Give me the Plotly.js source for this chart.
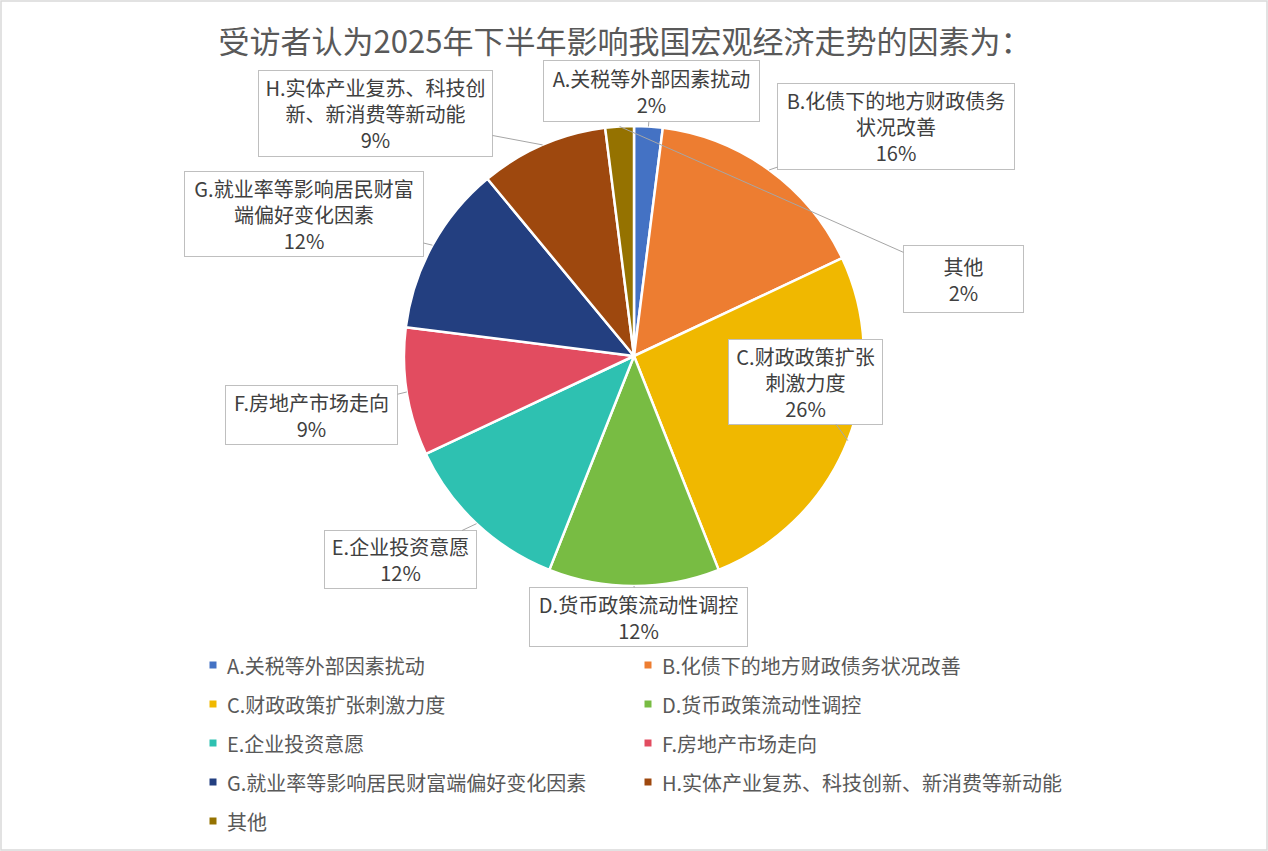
<!DOCTYPE html>
<html>
<head>
<meta charset="utf-8">
<script src="https://cdn.plot.ly/plotly-3.0.1.min.js"></script>
<style>
  body { margin: 0; background: #fff; }
  #chart { width: 1268px; height: 851px; }
</style>
</head>
<body>
<div id="chart"></div>
<script>
// 数据
const categories = [
  'A.关税等外部因素扰动',
  'B.化债下的地方财政债务状况改善',
  'C.财政政策扩张刺激力度',
  'D.货币政策流动性调控',
  'E.企业投资意愿',
  'F.房地产市场走向',
  'G.就业率等影响居民财富端偏好变化因素',
  'H.实体产业复苏、科技创新、新消费等新动能',
  '其他'
];
const shares = [2, 16, 26, 12, 12, 9, 12, 9, 2];
const colors = ['#4472C4', '#ED7D31', '#F0B800', '#78BC43', '#2EC1B1', '#E24C60', '#233F80', '#9E480E', '#957200'];

const titleText = '受访者认为2025年下半年影响我国宏观经济走势的因素为：';

// 画布 / 饼图几何（像素）
const W = 1268, H = 851;
const pie = { cx: 634, cy: 356, r: 230 };

// 标注框：中心、尺寸、换行位置
const boxes = [
  { cx: 651.5, cy: 91,    w: 217, h: 62, wrap: 0 },
  { cx: 896,   cy: 126.5, w: 238, h: 87, wrap: 12 },
  { cx: 805.5, cy: 382,   w: 155, h: 86, wrap: 8 },
  { cx: 638.5, cy: 617,   w: 219, h: 60, wrap: 0 },
  { cx: 400.5, cy: 559.5, w: 153, h: 59, wrap: 0 },
  { cx: 311.5, cy: 415,   w: 173, h: 60, wrap: 0 },
  { cx: 304,   cy: 214,   w: 240, h: 86, wrap: 12 },
  { cx: 375.5, cy: 113.5, w: 235, h: 87, wrap: 12 },
  { cx: 963.5, cy: 279,   w: 121, h: 68, wrap: 0 }
];

const labelFont = { family: 'Noto Sans CJK SC, sans-serif', size: 20, color: '#404040' };
const legendFont = { family: 'Noto Sans CJK SC, sans-serif', size: 20, color: '#595959' };

const total = shares.reduce((a, b) => a + b, 0);

// callouts, tip at slice mid-angle on the rim
const annotations = [];
let cum = 0;
shares.forEach((v, i) => {
  const theta = 2 * Math.PI * (cum + v / 2) / total;
  cum += v;
  const px = pie.cx + pie.r * Math.sin(theta);
  const py = pie.cy - pie.r * Math.cos(theta);
  const b = boxes[i];
  const name = categories[i];
  const nameText = b.wrap ? name.slice(0, b.wrap) + '<br>' + name.slice(b.wrap) : name;
  annotations.push({
    xref: 'paper', yref: 'paper',
    x: px / W, y: 1 - py / H,
    ax: b.cx - px, ay: b.cy - py,
    text: nameText + '<br>' + v + '%',
    showarrow: true, arrowhead: 0, arrowwidth: 1, arrowcolor: '#a6a6a6',
    standoff: 0,
    width: b.w - 2, height: b.h - 2,
    borderpad: 0, borderwidth: 1, bordercolor: '#bfbfbf', bgcolor: '#ffffff',
    align: 'center', valign: 'middle',
    font: labelFont
  });
});

// legend, two columns
const legendX = [213, 648];
const legendY0 = 665, legendStep = 39;
const shapes = [{
  type: 'rect', xref: 'paper', yref: 'paper',
  x0: 1 / W, x1: 1 - 1 / W, y0: 1 / H, y1: 1 - 1 / H,
  line: { color: '#d9d9d9', width: 1.5 }, fillcolor: 'rgba(0,0,0,0)'
}];
categories.forEach((name, i) => {
  const mx = legendX[i % 2];
  const my = legendY0 + legendStep * Math.floor(i / 2);
  shapes.push({
    type: 'rect', xref: 'paper', yref: 'paper',
    x0: (mx - 3.5) / W, x1: (mx + 3.5) / W,
    y0: 1 - (my + 3.5) / H, y1: 1 - (my - 3.5) / H,
    line: { width: 0 }, fillcolor: colors[i]
  });
  annotations.push({
    xref: 'paper', yref: 'paper',
    x: (mx + 12) / W, y: 1 - my / H,
    xanchor: 'left', yanchor: 'middle',
    text: name, showarrow: false,
    font: legendFont
  });
});

const trace = {
  type: 'pie',
  labels: categories,
  values: shares,
  sort: false,
  direction: 'clockwise',
  rotation: 0,
  textinfo: 'none',
  hoverinfo: 'label+percent',
  showlegend: false,
  marker: { colors: colors, line: { color: '#ffffff', width: 2.5 } },
  domain: {
    x: [(pie.cx - pie.r) / W, (pie.cx + pie.r) / W],
    y: [1 - (pie.cy + pie.r) / H, 1 - (pie.cy - pie.r) / H]
  }
};

const layout = {
  width: W,
  height: H,
  margin: { l: 0, r: 0, t: 0, b: 0 },
  paper_bgcolor: '#ffffff',
  title: {
    text: titleText,
    x: 625 / W, y: 1 - 42 / H,
    xanchor: 'center', yanchor: 'middle',
    font: { family: 'Noto Sans CJK SC, sans-serif', size: 31, color: '#595959' }
  },
  showlegend: false,
  shapes: shapes,
  annotations: annotations
};

Plotly.newPlot('chart', [trace], layout, { displayModeBar: false });
</script>
</body>
</html>
